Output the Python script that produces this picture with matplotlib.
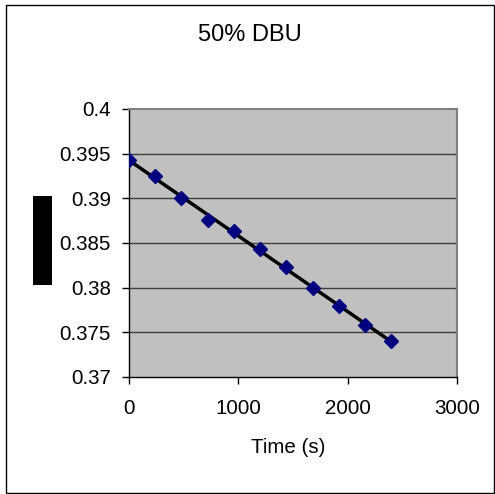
import numpy as np
import matplotlib
matplotlib.use("Agg")
import matplotlib.pyplot as plt
from matplotlib.patches import Rectangle

plt.rcParams['font.family'] = ['Liberation Sans', 'DejaVu Sans']

time_s = [0, 240, 480, 720, 960, 1200, 1440, 1680, 1920, 2160, 2400]
values = [0.3943, 0.3925, 0.3900, 0.3876, 0.3863, 0.3843, 0.3823, 0.3800, 0.3780, 0.3758, 0.3740]
title = "50% DBU"
xlabel = "Time (s)"
xticks = [0, 1000, 2000, 3000]
yticks = [0.37, 0.375, 0.38, 0.385, 0.39, 0.395, 0.4]
ytick_labels = ["0.37", "0.375", "0.38", "0.385", "0.39", "0.395", "0.4"]

W, H = 495, 494
fig = plt.figure(figsize=(W / 100, H / 100), dpi=100)

# outer chart border
fig.patches.append(Rectangle((5.5 / W, 1.0 / H), (494 - 5.5) / W, (488.5 - 1.0) / H,
                             transform=fig.transFigure, fill=False,
                             edgecolor='black', linewidth=1.0))

L, R, T, B = 129, 457, 109, 377
ax = fig.add_axes([L / W, (H - B) / H, (R - L) / W, (B - T) / H])
ax.set_facecolor('#C0C0C0')

for y in yticks[1:-1]:
    ax.axhline(y, color='#404040', linewidth=1.0, zorder=1)

x = np.array(time_s)
yv = np.array(values)
coef = np.polyfit(x, yv, 1)
ax.plot([x[0], x[-1]], np.polyval(coef, [x[0], x[-1]]), color='black',
        linewidth=2.5, zorder=3)
ax.plot(x, yv, linestyle='none', marker='D', markersize=7.5,
        color='#000080', markeredgecolor='#000080', zorder=4)

ax.set_xlim(0, 3000)
ax.set_ylim(0.37, 0.4)
ax.set_xticks(xticks)
ax.set_xticklabels([str(t) for t in xticks])
ax.set_yticks(yticks)
ax.set_yticklabels(ytick_labels)
ax.tick_params(axis='both', direction='out', length=5, width=1, labelsize=14.8,
               colors='black')
ax.tick_params(axis='x', pad=11)
ax.tick_params(axis='y', pad=8)
for s in ['top', 'right']:
    ax.spines[s].set_color('#808080')
    ax.spines[s].set_linewidth(1.5)
for s in ['left', 'bottom']:
    ax.spines[s].set_color('black')
    ax.spines[s].set_linewidth(1.0)

fig.text(250 / W, 1 - 35 / H, title, ha='center', va='center', fontsize=17)
fig.text(288 / W, 1 - 447 / H, xlabel, ha='center', va='center', fontsize=14.8)

# redacted y-axis label
fig.patches.append(Rectangle((33 / W, 1 - 285 / H), 19 / W, 89 / H,
                             transform=fig.transFigure, facecolor='black',
                             edgecolor='none'))

fig.savefig('out.png', dpi=100)
